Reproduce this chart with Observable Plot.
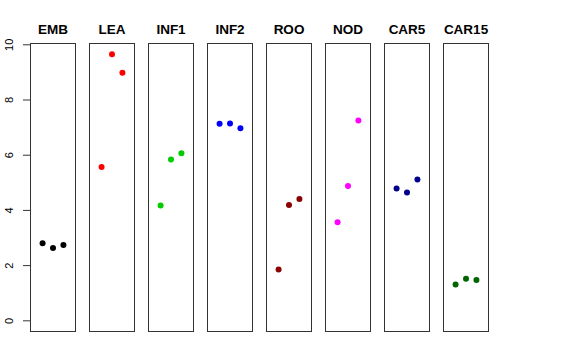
<!DOCTYPE html>
<html>
<head>
<meta charset="utf-8">
<script src="https://cdn.jsdelivr.net/npm/d3@7"></script>
<script src="https://cdn.jsdelivr.net/npm/@observablehq/plot@0.6"></script>
<style>
  html, body { margin: 0; padding: 0; background: #fff; }
  svg { display: block; }
</style>
</head>
<body>
<div id="chart"></div>
<script>
const categories = ["EMB", "LEA", "INF1", "INF2", "ROO", "NOD", "CAR5", "CAR15"];
const colors = ["#000000", "#FF0000", "#00CD00", "#0000FF", "#8B0000", "#FF00FF", "#00008B", "#006400"];
const replicate = [1, 2, 3];
const yTicks = [0, 2, 4, 6, 8, 10];

const EMB = [2.81, 2.64, 2.75];
const LEA = [5.57, 9.66, 8.99];
const INF1 = [4.18, 5.84, 6.07];
const INF2 = [7.14, 7.15, 6.98];
const ROO = [1.86, 4.20, 4.41];
const NOD = [3.57, 4.88, 7.26];
const CAR5 = [4.79, 4.65, 5.12];
const CAR15 = [1.32, 1.52, 1.48];

const series = [EMB, LEA, INF1, INF2, ROO, NOD, CAR5, CAR15];
const data = [];
categories.forEach((c, i) => {
  series[i].forEach((v, j) => data.push({cat: c, rep: replicate[j], value: v}));
});

const chart = Plot.plot({
  width: 576,
  height: 360,
  marginLeft: 29,
  marginRight: 88,
  marginTop: 43,
  marginBottom: 29,
  style: {fontFamily: "Liberation Sans, Arial, Helvetica, sans-serif", background: "#fff"},
  facet: {marginTop: 0, marginBottom: 0, marginLeft: 0, marginRight: 0},
  fx: {domain: categories, paddingInner: 0.239, paddingOuter: 0, axis: null, label: null},
  x: {domain: [-0.16, 4.16], axis: null},
  y: {domain: [-0.387, 10.047], axis: null},
  color: {domain: categories, range: colors},
  marks: [
    Plot.frame({stroke: "#333", strokeWidth: 1}),
    Plot.dot(data, {fx: "cat", x: "rep", y: "value", fill: "cat", r: 3}),
    Plot.axisY({ticks: yTicks, tickSize: 7, text: null, label: null, stroke: "#333"}),
    Plot.text(yTicks, {fx: () => categories[0], y: (d) => d, text: (d) => String(d), rotate: -90, frameAnchor: "left", dx: -21, fontSize: 11, fill: "#000", lineAnchor: "middle", textAnchor: "middle"}),
    Plot.axisFx({anchor: "top", tickSize: 0, label: null, fontWeight: "bold", fontSize: 13.5, tickPadding: 10, fill: "#000"})
  ]
});
document.getElementById("chart").appendChild(chart);
</script>
</body>
</html>
